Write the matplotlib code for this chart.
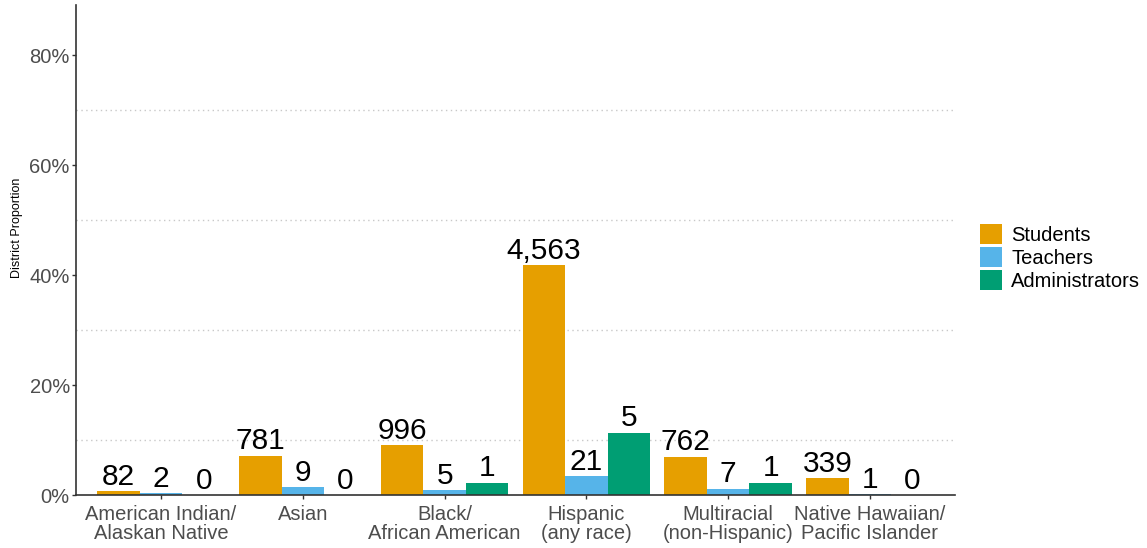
import numpy as np
import matplotlib
matplotlib.use("Agg")
import matplotlib.pyplot as plt
from matplotlib.patches import Patch

plt.rcParams['font.family'] = ['Liberation Sans', 'DejaVu Sans']

# Data
categories = ["American Indian/\nAlaskan Native", "Asian", "Black/\nAfrican American",
              "Hispanic\n(any race)", "Multiracial\n(non-Hispanic)",
              "Native Hawaiian/\nPacific Islander"]
groups = ["Students", "Teachers", "Administrators"]

students_pct = [0.75, 7.15, 9.1, 41.8, 7.0, 3.1]
teachers_pct = [0.33, 1.5, 0.83, 3.5, 1.17, 0.17]
admins_pct = [0.0, 0.0, 2.27, 11.36, 2.27, 0.0]

students_n = [82, 781, 996, 4563, 762, 339]
teachers_n = [2, 9, 5, 21, 7, 1]
admins_n = [0, 0, 1, 5, 1, 0]

colors = ["#E69F00", "#56B4E9", "#009E73"]

fig = plt.figure(figsize=(11.47, 5.48), dpi=100)
ax = fig.add_axes([0.0663, 0.0967, 0.8326 - 0.0663, 0.9909 - 0.0967])

x = np.arange(len(categories))
width = 0.3
series = [(students_pct, students_n), (teachers_pct, teachers_n), (admins_pct, admins_n)]

for i, (pct, n) in enumerate(series):
    pos = x + (i - 1) * width
    ax.bar(pos, pct, width=width, color=colors[i], zorder=2)
    for px, v, c in zip(pos, pct, n):
        ax.annotate(f"{c:,}", (px, v), xytext=(0, 4.5), textcoords="offset points",
                    ha="center", va="baseline", fontsize=21.5, color="black")

# dotted minor gridlines
for g in [10, 30, 50, 70]:
    ax.axhline(g, color="#C8C8C8", linestyle=(0, (1, 2.5)), linewidth=1.0, zorder=0)

ax.set_xlim(-0.6, 5.6)
ax.set_ylim(0, 89.1)
ax.set_yticks([0, 20, 40, 60, 80])
ax.set_yticklabels(["0%", "20%", "40%", "60%", "80%"])
ax.set_xticks(x)
ax.set_xticklabels(categories, linespacing=1.05)

ax.tick_params(axis="both", labelsize=14.5, labelcolor="#4D4D4D", color="#333333",
               length=3, width=1, pad=1.5)
ax.tick_params(axis="x", pad=4)

for s in ["top", "right"]:
    ax.spines[s].set_visible(False)
for s in ["left", "bottom"]:
    ax.spines[s].set_color("#333333")
    ax.spines[s].set_linewidth(1.2)

ax.set_ylabel("District Proportion", fontsize=9, color="black")
ax.yaxis.set_label_coords(-0.060, 0.545)

handles = [Patch(facecolor=c, edgecolor="none") for c in colors]
fig.legend(handles, groups, loc="upper left", bbox_to_anchor=(0.8544, 0.592),
           frameon=False, fontsize=14.5, handlelength=1.1, handleheight=1.2,
           handletextpad=0.45, labelspacing=0.1, borderpad=0, borderaxespad=0)

fig.savefig("out.png", dpi=100)
